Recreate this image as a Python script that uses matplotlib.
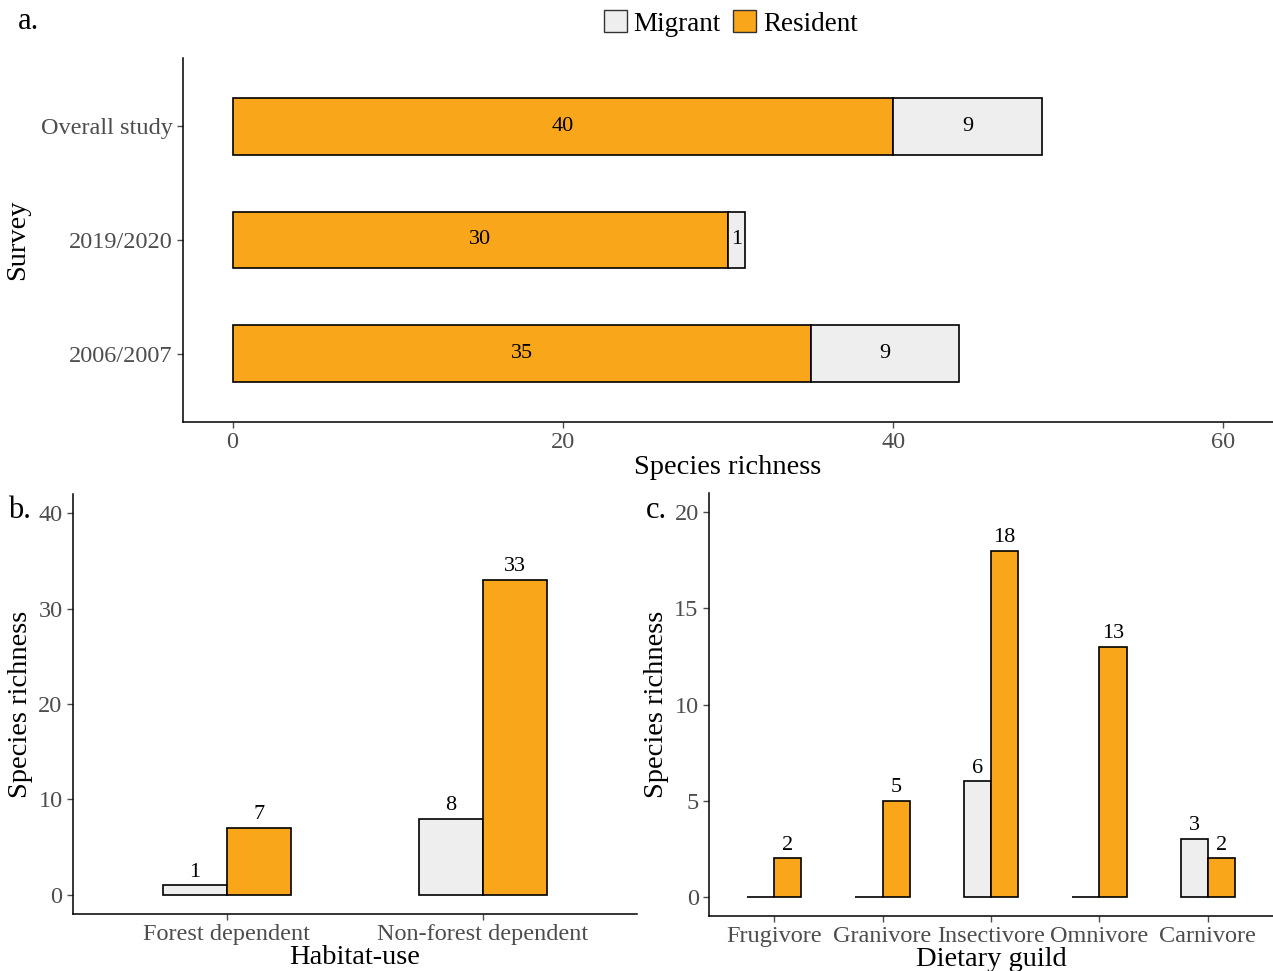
import numpy as np
import matplotlib
matplotlib.use("Agg")
import matplotlib.pyplot as plt
from matplotlib.patches import Patch

plt.rcParams['font.family'] = ['Liberation Serif', 'DejaVu Serif']

# data
surveys = ["2006/2007", "2019/2020", "Overall study"]
resident_a = [35, 30, 40]
migrant_a = [9, 1, 9]

habitat = ["Forest dependent", "Non-forest dependent"]
migrant_b = [1, 8]
resident_b = [7, 33]

guild = ["Frugivore", "Granivore", "Insectivore", "Omnivore", "Carnivore"]
migrant_c = [0, 0, 6, 0, 3]
resident_c = [2, 5, 18, 13, 2]

c_mig = "#EEEEEE"
c_res = "#F9A61A"
tick_col = "#4D4D4D"
lw = 1.2

fig = plt.figure(figsize=(12.73, 9.71), dpi=100)


def style(ax):
    for s in ["top", "right"]:
        ax.spines[s].set_visible(False)
    for s in ["left", "bottom"]:
        ax.spines[s].set_linewidth(1.1)
        ax.spines[s].set_color("black")
    ax.tick_params(colors=tick_col, labelcolor=tick_col, labelsize=17.5,
                   length=4, width=1.0)


# ---- panel a
ax = fig.add_axes([0.1438, 0.5654, 0.8562, 0.3749])
y = np.arange(1, len(surveys) + 1)
ax.barh(y, resident_a, height=0.5, color=c_res, edgecolor="black", linewidth=lw)
ax.barh(y, migrant_a, left=resident_a, height=0.5, color=c_mig,
        edgecolor="black", linewidth=lw)
for yi, r, m in zip(y, resident_a, migrant_a):
    ax.text(r / 2, yi, str(r), ha="center", va="center", fontsize=16)
    ax.text(r + m / 2, yi, str(m), ha="center", va="center", fontsize=16)
ax.set_xlim(-3, 63)
ax.set_ylim(0.4, 3.6)
ax.set_xticks([0, 20, 40, 60])
ax.set_yticks(y)
ax.set_yticklabels(surveys)
ax.set_xlabel("Species richness", fontsize=20.5, labelpad=1)
ax.set_ylabel("Survey", fontsize=20.5, labelpad=8)
style(ax)

# ---- panel b
ax = fig.add_axes([0.0573, 0.0587, 0.4430, 0.4325])
x = np.arange(1, len(habitat) + 1)
w = 0.25
ax.bar(x - w / 2, migrant_b, width=w, color=c_mig, edgecolor="black", linewidth=lw)
ax.bar(x + w / 2, resident_b, width=w, color=c_res, edgecolor="black", linewidth=lw)
for xi, m, r in zip(x, migrant_b, resident_b):
    if m > 0:
        ax.text(xi - w / 2, m + 0.4, str(m), ha="center", va="bottom", fontsize=16)
    if r > 0:
        ax.text(xi + w / 2, r + 0.4, str(r), ha="center", va="bottom", fontsize=16)
ax.set_xlim(0.4, 2.6)
ax.set_ylim(-2, 42)
ax.set_yticks([0, 10, 20, 30, 40])
ax.set_xticks(x)
ax.set_xticklabels(habitat)
ax.set_xlabel("Habitat-use", fontsize=20.5, labelpad=0)
ax.set_ylabel("Species richness", fontsize=20.5, labelpad=4)
style(ax)

# ---- panel c
ax = fig.add_axes([0.5570, 0.0566, 0.4430, 0.4356])
x = np.arange(1, len(guild) + 1)
ax.bar(x - w / 2, migrant_c, width=w, color=c_mig, edgecolor="black", linewidth=lw)
ax.bar(x + w / 2, resident_c, width=w, color=c_res, edgecolor="black", linewidth=lw)
for xi, m, r in zip(x, migrant_c, resident_c):
    if m > 0:
        ax.text(xi - w / 2, m + 0.2, str(m), ha="center", va="bottom", fontsize=16)
    if r > 0:
        ax.text(xi + w / 2, r + 0.2, str(r), ha="center", va="bottom", fontsize=16)
ax.set_xlim(0.4, 5.6)
ax.set_ylim(-1, 21)
ax.set_yticks([0, 5, 10, 15, 20])
ax.set_xticks(x)
ax.set_xticklabels(guild)
ax.set_xlabel("Dietary guild", fontsize=20.5, labelpad=0)
ax.set_ylabel("Species richness", fontsize=20.5, labelpad=4)
style(ax)

# panel letters
fig.text(0.014, 0.978, "a.", fontsize=22, va="center", ha="left")
fig.text(0.006, 0.474, "b.", fontsize=22, va="center", ha="left")
fig.text(0.507, 0.474, "c.", fontsize=22, va="center", ha="left")

# legend
handles = [Patch(facecolor=c_mig, edgecolor="#333333", linewidth=1.0, label="Migrant"),
           Patch(facecolor=c_res, edgecolor="#333333", linewidth=1.0, label="Resident")]
fig.legend(handles=handles, loc="center", bbox_to_anchor=(0.574, 0.976), ncol=2,
           frameon=False, fontsize=19.5, handlelength=0.85, handleheight=0.9,
           handletextpad=0.25, columnspacing=0.45, borderpad=0)

fig.savefig("out.png", dpi=100)
